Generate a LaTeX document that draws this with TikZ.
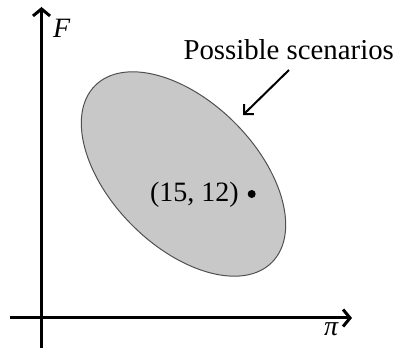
\documentclass[tikz,border=0pt]{standalone}
\usepackage{fontspec}
\setmainfont{Liberation Serif}
\usetikzlibrary{arrows.meta}
\definecolor{regionfill}{RGB}{200,200,200}
\definecolor{regionedge}{RGB}{80,80,80}
\tikzset{
  axis/.style={line width=3pt, -{Straight Barb[length=7pt,width=17pt,line width=3pt]}},
  pointer/.style={line width=2pt, -{Straight Barb[length=7pt,width=14pt,line width=2pt]}},
  lbl/.style={inner sep=0pt, font=\fontsize{28}{34}\selectfont},
  biglbl/.style={inner sep=0pt, font=\fontsize{28.8}{34}\selectfont},
}
\begin{document}
\begin{tikzpicture}[x=1pt,y=-1pt]
\useasboundingbox (0,0) rectangle (396,352);
% region
\draw[fill=regionfill, draw=regionedge, line width=1pt]
  (183.5,174) ellipse[x radius=125, y radius=72.5, rotate=-45];
% axes
\coordinate (xs) at (10,318);
\coordinate (xe) at (352,318);
\coordinate (ys) at (41.5,348);
\coordinate (ye) at (41.5,7);
\draw[axis] (xs) -- (xe);
\draw[axis] (ys) -- (ye);
\node[lbl, anchor=base west] (F) at (53,38) {\itshape F};
\node[lbl, anchor=base west] (pi) at (324,335) {\itshape π};
% label and pointer
\node[biglbl, anchor=base west] (ps) at (183.3,59.5) {Possible scenarios};
\coordinate (ptr) at (243,115);
\coordinate (ptrs) at (289,70);
\draw[pointer] (ptrs) -- (ptr);
% point
\fill (251.7,194) circle[radius=4];
\node[lbl, anchor=base east] (pt) at (239,201.5) {(15, 12)};
\end{tikzpicture}
\end{document}
